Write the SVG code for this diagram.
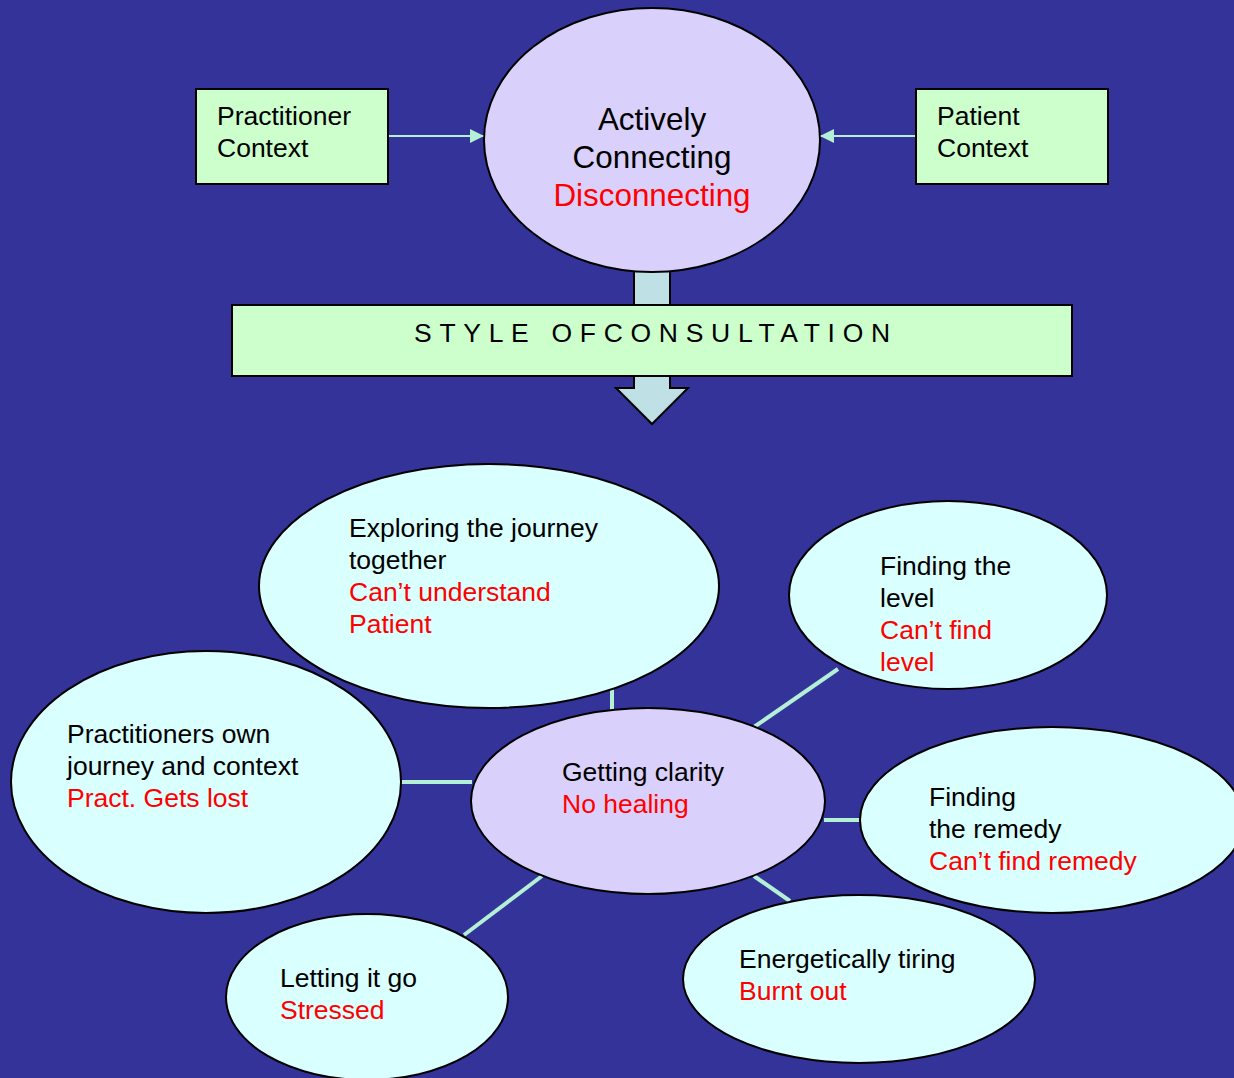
<svg xmlns="http://www.w3.org/2000/svg" width="1234" height="1078" viewBox="0 0 1234 1078">
<defs>
<style>
text{font-family:"Liberation Sans",Arial,sans-serif;fill:#000}
.r{fill:#ff0000}
.t26{font-size:26.5px}
.t31{font-size:31.4px}
.box{fill:#ccffcc;stroke:#000;stroke-width:2}
.lav{fill:#d9d0fb;stroke:#000;stroke-width:2}
.cy{fill:#d9ffff;stroke:#000;stroke-width:2}
.con{stroke:#b3f0d6;stroke-width:4;fill:none}
.arr{stroke:#b3f0d6;stroke-width:2;fill:none}
</style>
<marker id="ah" markerWidth="14" markerHeight="14" refX="14" refY="7" orient="auto" markerUnits="userSpaceOnUse">
<path d="M0,0 L14,7 L0,14 Z" fill="#b3f0d6"/>
</marker>
</defs>
<rect x="0" y="0" width="1234" height="1078" fill="#333399"/>

<g id="connectors">
<line class="arr" x1="388" y1="136" x2="484" y2="136" marker-end="url(#ah)"/>
<line class="arr" x1="916" y1="136" x2="820" y2="136" marker-end="url(#ah)"/>
<path d="M634,260 L634,388 L616,388 L652,424 L688,388 L670,388 L670,260 Z" fill="#bfe0e4" stroke="#000" stroke-width="2"/>
<line class="con" x1="612" y1="689" x2="612" y2="710"/>
<line class="con" x1="838" y1="669" x2="754" y2="727"/>
<line class="con" x1="400" y1="782" x2="472" y2="782"/>
<line class="con" x1="824" y1="820" x2="861" y2="820"/>
<line class="con" x1="542" y1="876" x2="464" y2="935"/>
<line class="con" x1="754" y1="876" x2="790" y2="901"/>
</g>

<g id="practitioner-context">
<rect class="box" x="196" y="89" width="192" height="95"/>
<text class="t26" x="217" y="125">Practitioner</text>
<text class="t26" x="217" y="157">Context</text>
</g>

<g id="patient-context">
<rect class="box" x="916" y="89" width="192" height="95"/>
<text class="t26" x="937" y="125">Patient</text>
<text class="t26" x="937" y="157">Context</text>
</g>

<g id="actively-connecting">
<ellipse class="lav" cx="652" cy="140" rx="168" ry="132"/>
<text class="t31" x="652" y="130" text-anchor="middle">Actively</text>
<text class="t31" x="652" y="168" text-anchor="middle">Connecting</text>
<text class="t31 r" x="652" y="206" text-anchor="middle">Disconnecting</text>
</g>

<g id="style-of-consultation">
<rect class="box" x="232" y="305" width="840" height="71"/>
<text class="t26" x="414" y="342" letter-spacing="7.7">STYLE OFCONSULTATION</text>
</g>

<g id="exploring">
<ellipse class="cy" cx="489" cy="586" rx="230" ry="122"/>
<text class="t26" x="349" y="537">Exploring the journey</text>
<text class="t26" x="349" y="569">together</text>
<text class="t26 r" x="349" y="601">Can’t understand</text>
<text class="t26 r" x="349" y="633">Patient</text>
</g>

<g id="finding-level">
<ellipse class="cy" cx="948" cy="595" rx="159" ry="94"/>
<text class="t26" x="880" y="575">Finding the</text>
<text class="t26" x="880" y="607">level</text>
<text class="t26 r" x="880" y="639">Can’t find</text>
<text class="t26 r" x="880" y="671">level</text>
</g>

<g id="practitioners-own">
<ellipse class="cy" cx="206" cy="782" rx="195" ry="131"/>
<text class="t26" x="67" y="743">Practitioners own</text>
<text class="t26" x="67" y="775">journey and context</text>
<text class="t26 r" x="67" y="807">Pract. Gets lost</text>
</g>

<g id="getting-clarity">
<ellipse class="lav" cx="648" cy="801" rx="177" ry="93"/>
<text class="t26" x="562" y="781">Getting clarity</text>
<text class="t26 r" x="562" y="813">No healing</text>
</g>

<g id="finding-remedy">
<ellipse class="cy" cx="1052" cy="820" rx="192" ry="93"/>
<text class="t26" x="929" y="806">Finding</text>
<text class="t26" x="929" y="838">the remedy</text>
<text class="t26 r" x="929" y="870">Can’t find remedy</text>
</g>

<g id="letting-go">
<ellipse class="cy" cx="367" cy="997" rx="141" ry="83"/>
<text class="t26" x="280" y="987">Letting it go</text>
<text class="t26 r" x="280" y="1019">Stressed</text>
</g>

<g id="energetically-tiring">
<ellipse class="cy" cx="859" cy="979" rx="176" ry="84"/>
<text class="t26" x="739" y="968">Energetically tiring</text>
<text class="t26 r" x="739" y="1000">Burnt out</text>
</g>
</svg>
